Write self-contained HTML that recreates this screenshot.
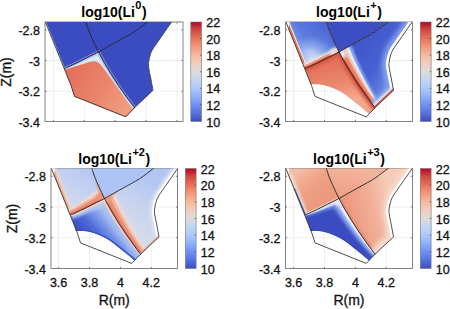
<!DOCTYPE html>
<html><head><meta charset="utf-8"><style>
html,body{margin:0;padding:0;background:#fff;width:450px;height:309px;overflow:hidden}
svg{display:block}
.t{font-family:"Liberation Sans",sans-serif;font-size:12.5px;fill:#111;stroke:#111;stroke-width:0.3px}
.l{font-family:"Liberation Sans",sans-serif;font-size:14px;fill:#111;stroke:#111;stroke-width:0.3px}
.ti{font-family:"Liberation Sans",sans-serif;font-size:14px;font-weight:bold;fill:#000}
</style></head><body>
<svg width="450" height="309" viewBox="0 0 450 309">
<defs><linearGradient id="cw" x1="0" y1="0" x2="0" y2="1"><stop offset="0" stop-color="#b40426"/><stop offset="0.08" stop-color="#d1493f"/><stop offset="0.17" stop-color="#e7745b"/><stop offset="0.25" stop-color="#f4987a"/><stop offset="0.33" stop-color="#f7b89c"/><stop offset="0.42" stop-color="#efcebd"/><stop offset="0.5" stop-color="#dddcdc"/><stop offset="0.58" stop-color="#c5d6f2"/><stop offset="0.67" stop-color="#aac7fd"/><stop offset="0.75" stop-color="#8db0fe"/><stop offset="0.83" stop-color="#6f92f3"/><stop offset="0.92" stop-color="#5470de"/><stop offset="1" stop-color="#3b4cc0"/></linearGradient><filter id="b0_5" filterUnits="userSpaceOnUse" x="-60" y="-60" width="280" height="240"><feGaussianBlur stdDeviation="0.5"/></filter><clipPath id="c1"><path d=" M-0.4,-2 L19.2,46.6 L26,63.5 L29.5,74.4 L80.8,94.9 L89.6,85.7 L108,68.3 L108,68.3 C107.65,66.42 106.63,60.88 105.9,57 C105.17,53.12 103.95,48 103.6,45 C103.25,42 103.53,41 103.8,39 C104.07,37 104.57,34.92 105.2,33 C105.83,31.08 106.23,29.83 107.6,27.5 C108.97,25.17 110.23,23.58 113.4,19 C116.57,14.42 124.17,3.48 126.6,0 C129.03,-3.48 127.77,-1.58 128,-1.9 Z"/></clipPath><linearGradient id="tlred" gradientUnits="userSpaceOnUse" x1="25" y1="50" x2="88" y2="90"><stop offset="0" stop-color="#e3705a"/><stop offset="0.5" stop-color="#eb866c"/><stop offset="1" stop-color="#f2a286"/></linearGradient><filter id="b0_4" filterUnits="userSpaceOnUse" x="-60" y="-60" width="280" height="240"><feGaussianBlur stdDeviation="0.4"/></filter><filter id="b0_6" filterUnits="userSpaceOnUse" x="-60" y="-60" width="280" height="240"><feGaussianBlur stdDeviation="0.6"/></filter><clipPath id="c2"><path d="M53.5,30 C49.5,32 35.22,39.23 29.5,42 C23.78,44.77 20.92,45.83 19.2,46.6 L19.2,46.6 L26,63.5 L29.5,74.4 L80.8,94.9 L89.6,85.7 L89.6,85.7 C88.21,83.85 83.93,78.31 81.24,74.61 C78.55,70.91 75.96,67.2 73.46,63.49 C70.95,59.78 68.55,56.07 66.24,52.35 C63.92,48.63 61.71,44.91 59.58,41.19 C57.46,37.46 54.51,31.86 53.5,30 Z"/></clipPath><clipPath id="ax0"><rect x="0" y="0" width="138" height="99.5"/></clipPath><linearGradient id="trl" gradientUnits="userSpaceOnUse" x1="45" y1="0" x2="15" y2="45"><stop offset="0" stop-color="#4460d4"/><stop offset="0.55" stop-color="#6282e2"/><stop offset="1" stop-color="#98b0f2"/></linearGradient><radialGradient id="trlr" gradientUnits="userSpaceOnUse" cx="24" cy="42" r="32"><stop offset="0" stop-color="#eef0f6" stop-opacity="1"/><stop offset="0.4" stop-color="#b8c8f2" stop-opacity="0.95"/><stop offset="0.75" stop-color="#7898e8" stop-opacity="0.6"/><stop offset="1" stop-color="#4a66d6" stop-opacity="0"/></radialGradient><filter id="b2_5" filterUnits="userSpaceOnUse" x="-60" y="-60" width="280" height="240"><feGaussianBlur stdDeviation="2.5"/></filter><filter id="b1" filterUnits="userSpaceOnUse" x="-60" y="-60" width="280" height="240"><feGaussianBlur stdDeviation="1"/></filter><filter id="b1_5" filterUnits="userSpaceOnUse" x="-60" y="-60" width="280" height="240"><feGaussianBlur stdDeviation="1.5"/></filter><clipPath id="c3"><path d=" M-0.4,-2 L19.2,46.6 L19.2,46.6 C20.92,45.83 23.78,44.77 29.5,42 C35.22,39.23 49.5,32 53.5,30 L53.5,30 C52.08,26.93 47.22,16.93 45,11.6 C42.78,6.27 41,0.27 40.2,-2 Z"/></clipPath><clipPath id="c4"><path d="M53.5,30 C52.08,26.93 47.22,16.93 45,11.6 C42.78,6.27 41,0.27 40.2,-2 L40.2,-2 L105,-2 L105,-2 C104.58,-1.67 105.08,-1.93 102.5,0 C99.92,1.93 93.33,7.02 89.5,9.6 C85.67,12.18 83.58,13.18 79.5,15.5 C75.42,17.82 69.33,21.08 65,23.5 C60.67,25.92 55.42,28.92 53.5,30 Z"/></clipPath><linearGradient id="trr" gradientUnits="userSpaceOnUse" x1="60" y1="30" x2="106" y2="60"><stop offset="0" stop-color="#3f54c8"/><stop offset="0.6" stop-color="#4660d2"/><stop offset="1" stop-color="#6584e2"/></linearGradient><filter id="b1_2" filterUnits="userSpaceOnUse" x="-60" y="-60" width="280" height="240"><feGaussianBlur stdDeviation="1.2"/></filter><filter id="b0_7" filterUnits="userSpaceOnUse" x="-60" y="-60" width="280" height="240"><feGaussianBlur stdDeviation="0.7"/></filter><clipPath id="c5"><path d="M53.5,30 C55.42,28.92 60.67,25.92 65,23.5 C69.33,21.08 75.42,17.82 79.5,15.5 C83.58,13.18 85.67,12.18 89.5,9.6 C93.33,7.02 99.92,1.93 102.5,0 C105.08,-1.93 104.58,-1.67 105,-2 L130,-2 L128,-1.9 C127.77,-1.58 129.03,-3.48 126.6,0 C124.17,3.48 116.57,14.42 113.4,19 C110.23,23.58 108.97,25.17 107.6,27.5 C106.23,29.83 105.83,31.08 105.2,33 C104.57,34.92 104.07,37 103.8,39 C103.53,41 103.25,42 103.6,45 C103.95,48 105.17,53.12 105.9,57 C106.63,60.88 107.65,66.42 108,68.3 L108,68.3 L89.6,85.7 L89.6,85.7 C88.21,83.85 83.93,78.31 81.24,74.61 C78.55,70.91 75.96,67.2 73.46,63.49 C70.95,59.78 68.55,56.07 66.24,52.35 C63.92,48.63 61.71,44.91 59.58,41.19 C57.46,37.46 54.51,31.86 53.5,30 Z"/></clipPath><linearGradient id="trp" gradientUnits="userSpaceOnUse" x1="45" y1="40" x2="55" y2="80"><stop offset="0" stop-color="#e4705a"/><stop offset="0.6" stop-color="#ea8a70"/><stop offset="1" stop-color="#f2a88c"/></linearGradient><filter id="b1_8" filterUnits="userSpaceOnUse" x="-60" y="-60" width="280" height="240"><feGaussianBlur stdDeviation="1.8"/></filter><clipPath id="c6"><path d="M53.5,30 C49.5,32 35.22,39.23 29.5,42 C23.78,44.77 20.92,45.83 19.2,46.6 L19.2,46.6 L24.9,62.6 L24.9,62.6 C27.22,62.77 33.82,62.4 38.8,63.6 C43.78,64.8 49.47,66.83 54.8,69.8 C60.13,72.77 65.98,77.68 70.8,81.4 C75.62,85.12 81.55,90.32 83.7,92.1 L83.7,92.1 L89.6,85.7 L89.6,85.7 C88.21,83.85 83.93,78.31 81.24,74.61 C78.55,70.91 75.96,67.2 73.46,63.49 C70.95,59.78 68.55,56.07 66.24,52.35 C63.92,48.63 61.71,44.91 59.58,41.19 C57.46,37.46 54.51,31.86 53.5,30 Z"/></clipPath><clipPath id="ax1"><rect x="0" y="0" width="127" height="99.5"/></clipPath><linearGradient id="bll" gradientUnits="userSpaceOnUse" x1="40" y1="0" x2="15" y2="40"><stop offset="0" stop-color="#b4c6f2"/><stop offset="0.6" stop-color="#c8d4f0"/><stop offset="1" stop-color="#d6dcec"/></linearGradient><filter id="b0_8" filterUnits="userSpaceOnUse" x="-60" y="-60" width="280" height="240"><feGaussianBlur stdDeviation="0.8"/></filter><clipPath id="c7"><path d=" M-0.4,-2 L19.2,46.6 L19.2,46.6 C20.92,45.83 23.78,44.77 29.5,42 C35.22,39.23 49.5,32 53.5,30 L53.5,30 C52.08,26.93 47.22,16.93 45,11.6 C42.78,6.27 41,0.27 40.2,-2 Z"/></clipPath><clipPath id="c8"><path d="M53.5,30 C52.08,26.93 47.22,16.93 45,11.6 C42.78,6.27 41,0.27 40.2,-2 L40.2,-2 L105,-2 L105,-2 C104.58,-1.67 105.08,-1.93 102.5,0 C99.92,1.93 93.33,7.02 89.5,9.6 C85.67,12.18 83.58,13.18 79.5,15.5 C75.42,17.82 69.33,21.08 65,23.5 C60.67,25.92 55.42,28.92 53.5,30 Z"/></clipPath><linearGradient id="blr" gradientUnits="userSpaceOnUse" x1="70" y1="55" x2="100" y2="12"><stop offset="0" stop-color="#d4dcec"/><stop offset="0.5" stop-color="#c6d2ee"/><stop offset="1" stop-color="#b2c6f2"/></linearGradient><clipPath id="c9"><path d="M53.5,30 C55.42,28.92 60.67,25.92 65,23.5 C69.33,21.08 75.42,17.82 79.5,15.5 C83.58,13.18 85.67,12.18 89.5,9.6 C93.33,7.02 99.92,1.93 102.5,0 C105.08,-1.93 104.58,-1.67 105,-2 L130,-2 L128,-1.9 C127.77,-1.58 129.03,-3.48 126.6,0 C124.17,3.48 116.57,14.42 113.4,19 C110.23,23.58 108.97,25.17 107.6,27.5 C106.23,29.83 105.83,31.08 105.2,33 C104.57,34.92 104.07,37 103.8,39 C103.53,41 103.25,42 103.6,45 C103.95,48 105.17,53.12 105.9,57 C106.63,60.88 107.65,66.42 108,68.3 L108,68.3 L89.6,85.7 L89.6,85.7 C88.21,83.85 83.93,78.31 81.24,74.61 C78.55,70.91 75.96,67.2 73.46,63.49 C70.95,59.78 68.55,56.07 66.24,52.35 C63.92,48.63 61.71,44.91 59.58,41.19 C57.46,37.46 54.51,31.86 53.5,30 Z"/></clipPath><linearGradient id="blp" gradientUnits="userSpaceOnUse" x1="30" y1="64" x2="62" y2="36"><stop offset="0" stop-color="#3a50c4"/><stop offset="0.3" stop-color="#4e6cd8"/><stop offset="0.65" stop-color="#94aef0"/><stop offset="1" stop-color="#ccd8f2"/></linearGradient><clipPath id="c10"><path d="M53.5,30 C49.5,32 35.22,39.23 29.5,42 C23.78,44.77 20.92,45.83 19.2,46.6 L19.2,46.6 L24.9,62.6 L24.9,62.6 C27.22,62.77 33.82,62.4 38.8,63.6 C43.78,64.8 49.47,66.83 54.8,69.8 C60.13,72.77 65.98,77.68 70.8,81.4 C75.62,85.12 81.55,90.32 83.7,92.1 L83.7,92.1 L89.6,85.7 L89.6,85.7 C88.21,83.85 83.93,78.31 81.24,74.61 C78.55,70.91 75.96,67.2 73.46,63.49 C70.95,59.78 68.55,56.07 66.24,52.35 C63.92,48.63 61.71,44.91 59.58,41.19 C57.46,37.46 54.51,31.86 53.5,30 Z"/></clipPath><clipPath id="ax2"><rect x="0" y="0" width="126.5" height="100"/></clipPath><linearGradient id="brl" gradientUnits="userSpaceOnUse" x1="5" y1="5" x2="35" y2="42"><stop offset="0" stop-color="#f4c0aa"/><stop offset="0.45" stop-color="#eea286"/><stop offset="1" stop-color="#ec967a"/></linearGradient><clipPath id="c11"><path d=" M-0.4,-2 L19.2,46.6 L19.2,46.6 C20.92,45.83 23.78,44.77 29.5,42 C35.22,39.23 49.5,32 53.5,30 L53.5,30 C52.08,26.93 47.22,16.93 45,11.6 C42.78,6.27 41,0.27 40.2,-2 Z"/></clipPath><linearGradient id="brc" gradientUnits="userSpaceOnUse" x1="60" y1="0" x2="55" y2="28"><stop offset="0" stop-color="#f2b49c"/><stop offset="1" stop-color="#ee9e84"/></linearGradient><clipPath id="c12"><path d="M53.5,30 C52.08,26.93 47.22,16.93 45,11.6 C42.78,6.27 41,0.27 40.2,-2 L40.2,-2 L105,-2 L105,-2 C104.58,-1.67 105.08,-1.93 102.5,0 C99.92,1.93 93.33,7.02 89.5,9.6 C85.67,12.18 83.58,13.18 79.5,15.5 C75.42,17.82 69.33,21.08 65,23.5 C60.67,25.92 55.42,28.92 53.5,30 Z"/></clipPath><linearGradient id="brr" gradientUnits="userSpaceOnUse" x1="60" y1="40" x2="106" y2="30"><stop offset="0" stop-color="#ec967c"/><stop offset="0.6" stop-color="#f2b29a"/><stop offset="1" stop-color="#f6cdb9"/></linearGradient><filter id="b2" filterUnits="userSpaceOnUse" x="-60" y="-60" width="280" height="240"><feGaussianBlur stdDeviation="2"/></filter><clipPath id="c13"><path d="M53.5,30 C55.42,28.92 60.67,25.92 65,23.5 C69.33,21.08 75.42,17.82 79.5,15.5 C83.58,13.18 85.67,12.18 89.5,9.6 C93.33,7.02 99.92,1.93 102.5,0 C105.08,-1.93 104.58,-1.67 105,-2 L130,-2 L128,-1.9 C127.77,-1.58 129.03,-3.48 126.6,0 C124.17,3.48 116.57,14.42 113.4,19 C110.23,23.58 108.97,25.17 107.6,27.5 C106.23,29.83 105.83,31.08 105.2,33 C104.57,34.92 104.07,37 103.8,39 C103.53,41 103.25,42 103.6,45 C103.95,48 105.17,53.12 105.9,57 C106.63,60.88 107.65,66.42 108,68.3 L108,68.3 L89.6,85.7 L89.6,85.7 C88.21,83.85 83.93,78.31 81.24,74.61 C78.55,70.91 75.96,67.2 73.46,63.49 C70.95,59.78 68.55,56.07 66.24,52.35 C63.92,48.63 61.71,44.91 59.58,41.19 C57.46,37.46 54.51,31.86 53.5,30 Z"/></clipPath><clipPath id="c14"><path d="M53.5,30 C49.5,32 35.22,39.23 29.5,42 C23.78,44.77 20.92,45.83 19.2,46.6 L19.2,46.6 L24.9,62.6 L24.9,62.6 C27.22,62.77 33.82,62.4 38.8,63.6 C43.78,64.8 49.47,66.83 54.8,69.8 C60.13,72.77 65.98,77.68 70.8,81.4 C75.62,85.12 81.55,90.32 83.7,92.1 L83.7,92.1 L89.6,85.7 L89.6,85.7 C88.21,83.85 83.93,78.31 81.24,74.61 C78.55,70.91 75.96,67.2 73.46,63.49 C70.95,59.78 68.55,56.07 66.24,52.35 C63.92,48.63 61.71,44.91 59.58,41.19 C57.46,37.46 54.51,31.86 53.5,30 Z"/></clipPath><clipPath id="ax3"><rect x="0" y="0" width="127" height="100"/></clipPath></defs>
<g transform="translate(45,22)">
<line x1="8.4" y1="0" x2="8.4" y2="99.5" stroke="#e8e8e8" stroke-width="0.75"/>
<line x1="39.3" y1="0" x2="39.3" y2="99.5" stroke="#e8e8e8" stroke-width="0.75"/>
<line x1="70.2" y1="0" x2="70.2" y2="99.5" stroke="#e8e8e8" stroke-width="0.75"/>
<line x1="101.1" y1="0" x2="101.1" y2="99.5" stroke="#e8e8e8" stroke-width="0.75"/>
<line x1="132" y1="0" x2="132" y2="99.5" stroke="#e8e8e8" stroke-width="0.75"/>
<line x1="0" y1="7.8" x2="138" y2="7.8" stroke="#e8e8e8" stroke-width="0.75"/>
<line x1="0" y1="38.5" x2="138" y2="38.5" stroke="#e8e8e8" stroke-width="0.75"/>
<line x1="0" y1="69.2" x2="138" y2="69.2" stroke="#e8e8e8" stroke-width="0.75"/>
<rect x="0" y="0" width="138" height="99.5" fill="none" stroke="#6e6e6e" stroke-width="0.85"/>
<line x1="8.4" y1="99.5" x2="8.4" y2="98" stroke="#555" stroke-width="0.7"/>
<line x1="39.3" y1="99.5" x2="39.3" y2="98" stroke="#555" stroke-width="0.7"/>
<line x1="70.2" y1="99.5" x2="70.2" y2="98" stroke="#555" stroke-width="0.7"/>
<line x1="101.1" y1="99.5" x2="101.1" y2="98" stroke="#555" stroke-width="0.7"/>
<line x1="132" y1="99.5" x2="132" y2="98" stroke="#555" stroke-width="0.7"/>
<line x1="8.4" y1="0" x2="8.4" y2="1.5" stroke="#555" stroke-width="0.7"/>
<line x1="39.3" y1="0" x2="39.3" y2="1.5" stroke="#555" stroke-width="0.7"/>
<line x1="70.2" y1="0" x2="70.2" y2="1.5" stroke="#555" stroke-width="0.7"/>
<line x1="101.1" y1="0" x2="101.1" y2="1.5" stroke="#555" stroke-width="0.7"/>
<line x1="132" y1="0" x2="132" y2="1.5" stroke="#555" stroke-width="0.7"/>
<line x1="0" y1="7.8" x2="1.5" y2="7.8" stroke="#555" stroke-width="0.7"/>
<line x1="138" y1="7.8" x2="136.5" y2="7.8" stroke="#555" stroke-width="0.7"/>
<line x1="0" y1="38.5" x2="1.5" y2="38.5" stroke="#555" stroke-width="0.7"/>
<line x1="138" y1="38.5" x2="136.5" y2="38.5" stroke="#555" stroke-width="0.7"/>
<line x1="0" y1="69.2" x2="1.5" y2="69.2" stroke="#555" stroke-width="0.7"/>
<line x1="138" y1="69.2" x2="136.5" y2="69.2" stroke="#555" stroke-width="0.7"/>
<g clip-path="url(#ax0)">
<g clip-path="url(#c1)">
<path d=" M-0.4,-2 L19.2,46.6 L26,63.5 L29.5,74.4 L80.8,94.9 L89.6,85.7 L108,68.3 L108,68.3 C107.65,66.42 106.63,60.88 105.9,57 C105.17,53.12 103.95,48 103.6,45 C103.25,42 103.53,41 103.8,39 C104.07,37 104.57,34.92 105.2,33 C105.83,31.08 106.23,29.83 107.6,27.5 C108.97,25.17 110.23,23.58 113.4,19 C116.57,14.42 124.17,3.48 126.6,0 C129.03,-3.48 127.77,-1.58 128,-1.9 Z" fill="#3b4cc0"/>
<path d=" M-0.4,-2 L19.2,46.6" fill="none" stroke="#b8c8f0" stroke-width="1.6" stroke-linecap="round" stroke-linejoin="round"/>
<path d="M53.5,30 C49.5,32 35.22,39.23 29.5,42 C23.78,44.77 20.92,45.83 19.2,46.6 M53.5,30 C54.51,31.86 57.46,37.46 59.58,41.19 C61.71,44.91 63.92,48.63 66.24,52.35 C68.55,56.07 70.95,59.78 73.46,63.49 C75.96,67.2 78.55,70.91 81.24,74.61 C83.93,78.31 88.21,83.85 89.6,85.7" fill="none" stroke="#90a8ea" stroke-width="3.6" stroke-linecap="round" stroke-linejoin="round" stroke-opacity="0.55" filter="url(#b0_5)"/>
</g>
<g clip-path="url(#c2)">
<path d="M53.5,30 C49.5,32 35.22,39.23 29.5,42 C23.78,44.77 20.92,45.83 19.2,46.6 L19.2,46.6 L26,63.5 L29.5,74.4 L80.8,94.9 L89.6,85.7 L89.6,85.7 C88.21,83.85 83.93,78.31 81.24,74.61 C78.55,70.91 75.96,67.2 73.46,63.49 C70.95,59.78 68.55,56.07 66.24,52.35 C63.92,48.63 61.71,44.91 59.58,41.19 C57.46,37.46 54.51,31.86 53.5,30 Z" fill="#dde6f4"/>
<path d=" M52.51,28.03 L50.6,29.07 L47.95,30.51 L44.79,32.23 L41.34,34.1 L37.8,36.02 L34.41,37.85 L31.37,39.48 L28.91,40.78 L26.94,41.8 L25.21,42.66 L23.71,43.4 L22.4,44.02 L21.28,44.54 L20.32,44.98 L19.5,45.35 L18.8,45.68 L19.6,47.52 L20.3,47.24 L21.14,46.92 L22.13,46.54 L23.3,46.08 L24.66,45.54 L26.23,44.89 L28.03,44.12 L30.09,43.22 L32.65,42.07 L35.79,40.63 L39.3,39.01 L42.95,37.32 L46.52,35.66 L49.78,34.15 L52.51,32.88 L54.49,31.97 Z" fill="#b4c8f0" filter="url(#b0_4)"/>
<path d=" M51.56,31.04 L52.04,31.9 L52.68,33.03 L53.43,34.38 L54.28,35.89 L55.18,37.49 L56.1,39.11 L57.01,40.69 L57.87,42.16 L58.7,43.55 L59.54,44.94 L60.39,46.33 L61.25,47.72 L62.11,49.11 L62.99,50.5 L63.87,51.88 L64.76,53.27 L65.66,54.65 L66.57,56.04 L67.49,57.42 L68.42,58.8 L69.35,60.19 L70.3,61.57 L71.25,62.95 L72.22,64.33 L73.19,65.71 L74.17,67.09 L75.16,68.46 L76.15,69.84 L77.16,71.22 L78.18,72.59 L79.2,73.97 L80.23,75.34 L81.34,76.8 L82.54,78.35 L83.79,79.95 L85.02,81.52 L86.2,83.01 L87.25,84.34 L88.14,85.46 L88.8,86.3 L90.4,85.1 L89.76,84.23 L88.92,83.07 L87.91,81.7 L86.79,80.18 L85.62,78.57 L84.44,76.93 L83.3,75.35 L82.25,73.87 L81.28,72.47 L80.31,71.07 L79.35,69.67 L78.4,68.26 L77.46,66.86 L76.53,65.46 L75.61,64.06 L74.7,62.66 L73.79,61.25 L72.9,59.85 L72.01,58.45 L71.13,57.05 L70.26,55.64 L69.4,54.24 L68.55,52.84 L67.71,51.44 L66.88,50.03 L66.05,48.63 L65.24,47.23 L64.43,45.82 L63.63,44.42 L62.85,43.02 L62.07,41.62 L61.3,40.22 L60.5,38.74 L59.66,37.15 L58.81,35.52 L57.98,33.9 L57.19,32.37 L56.48,30.99 L55.89,29.83 L55.44,28.96 Z" fill="#b4c8f0" filter="url(#b0_4)"/>
<path d=" M19.63,47.71 L44.59,40 Q52.23,37.63 56.91,44.12 L88.01,87.25 L80.8,94.9 L29.5,74.4 L26,63.5 Z" fill="url(#tlred)" filter="url(#b0_4)"/>
<path d=" M19.2,46.6 L26,63.5 L29.5,74.4 L80.8,94.9 L89.6,85.7 L108,68.3" fill="none" stroke="#d9604a" stroke-width="1.6" stroke-linecap="round" stroke-linejoin="round" stroke-opacity="0.6" filter="url(#b0_6)"/>
</g>
<path d=" M-0.4,-2 L19.2,46.6 L26,63.5 L29.5,74.4 L80.8,94.9 L89.6,85.7 L108,68.3 L108,68.3 C107.65,66.42 106.63,60.88 105.9,57 C105.17,53.12 103.95,48 103.6,45 C103.25,42 103.53,41 103.8,39 C104.07,37 104.57,34.92 105.2,33 C105.83,31.08 106.23,29.83 107.6,27.5 C108.97,25.17 110.23,23.58 113.4,19 C116.57,14.42 124.17,3.48 126.6,0 C129.03,-3.48 127.77,-1.58 128,-1.9" fill="none" stroke="#3a3a3a" stroke-width="0.9"/>
<path d="M53.5,30 C52.08,26.93 47.22,16.93 45,11.6 C42.78,6.27 41,0.27 40.2,-2 M53.5,30 C55.42,28.92 60.67,25.92 65,23.5 C69.33,21.08 75.42,17.82 79.5,15.5 C83.58,13.18 85.67,12.18 89.5,9.6 C93.33,7.02 99.92,1.93 102.5,0 C105.08,-1.93 104.58,-1.67 105,-2 M53.5,30 C49.5,32 35.22,39.23 29.5,42 C23.78,44.77 20.92,45.83 19.2,46.6 M53.5,30 C54.51,31.86 57.46,37.46 59.58,41.19 C61.71,44.91 63.92,48.63 66.24,52.35 C68.55,56.07 70.95,59.78 73.46,63.49 C75.96,67.2 78.55,70.91 81.24,74.61 C83.93,78.31 88.21,83.85 89.6,85.7" fill="none" stroke="#262626" stroke-width="0.95"/>
</g>
<text x="-5" y="12.8" text-anchor="end" class="t">-2.8</text>
<text x="-5" y="43.5" text-anchor="end" class="t">-3</text>
<text x="-5" y="74.2" text-anchor="end" class="t">-3.2</text>
<text x="-5" y="105" text-anchor="end" class="t">-3.4</text>
<text transform="translate(-34,50) rotate(-90)" text-anchor="middle" class="l">Z(m)</text>
<text x="69" y="-4.6" text-anchor="middle" class="ti">log10(Li<tspan dx="0.4" dy="-8" font-size="11">0</tspan><tspan dx="0.6" dy="8">)</tspan></text>
<rect x="145.8" y="0" width="10.8" height="99.5" fill="url(#cw)" stroke="#777" stroke-width="0.6"/>
<text x="161.3" y="5" class="t">22</text>
<line x1="156.6" y1="16.58" x2="155.1" y2="16.58" stroke="#444" stroke-width="0.7"/>
<text x="161.3" y="21.58" class="t">20</text>
<line x1="156.6" y1="33.17" x2="155.1" y2="33.17" stroke="#444" stroke-width="0.7"/>
<text x="161.3" y="38.17" class="t">18</text>
<line x1="156.6" y1="49.75" x2="155.1" y2="49.75" stroke="#444" stroke-width="0.7"/>
<text x="161.3" y="54.75" class="t">16</text>
<line x1="156.6" y1="66.33" x2="155.1" y2="66.33" stroke="#444" stroke-width="0.7"/>
<text x="161.3" y="71.33" class="t">14</text>
<line x1="156.6" y1="82.92" x2="155.1" y2="82.92" stroke="#444" stroke-width="0.7"/>
<text x="161.3" y="87.92" class="t">12</text>
<text x="161.3" y="104.5" class="t">10</text>
</g>
<g transform="translate(285.5,22)">
<line x1="8.1" y1="0" x2="8.1" y2="99.5" stroke="#e8e8e8" stroke-width="0.75"/>
<line x1="39" y1="0" x2="39" y2="99.5" stroke="#e8e8e8" stroke-width="0.75"/>
<line x1="69.9" y1="0" x2="69.9" y2="99.5" stroke="#e8e8e8" stroke-width="0.75"/>
<line x1="100.8" y1="0" x2="100.8" y2="99.5" stroke="#e8e8e8" stroke-width="0.75"/>
<line x1="0" y1="7.8" x2="127" y2="7.8" stroke="#e8e8e8" stroke-width="0.75"/>
<line x1="0" y1="38.5" x2="127" y2="38.5" stroke="#e8e8e8" stroke-width="0.75"/>
<line x1="0" y1="69.2" x2="127" y2="69.2" stroke="#e8e8e8" stroke-width="0.75"/>
<rect x="0" y="0" width="127" height="99.5" fill="none" stroke="#6e6e6e" stroke-width="0.85"/>
<line x1="8.1" y1="99.5" x2="8.1" y2="98" stroke="#555" stroke-width="0.7"/>
<line x1="39" y1="99.5" x2="39" y2="98" stroke="#555" stroke-width="0.7"/>
<line x1="69.9" y1="99.5" x2="69.9" y2="98" stroke="#555" stroke-width="0.7"/>
<line x1="100.8" y1="99.5" x2="100.8" y2="98" stroke="#555" stroke-width="0.7"/>
<line x1="8.1" y1="0" x2="8.1" y2="1.5" stroke="#555" stroke-width="0.7"/>
<line x1="39" y1="0" x2="39" y2="1.5" stroke="#555" stroke-width="0.7"/>
<line x1="69.9" y1="0" x2="69.9" y2="1.5" stroke="#555" stroke-width="0.7"/>
<line x1="100.8" y1="0" x2="100.8" y2="1.5" stroke="#555" stroke-width="0.7"/>
<line x1="0" y1="7.8" x2="1.5" y2="7.8" stroke="#555" stroke-width="0.7"/>
<line x1="127" y1="7.8" x2="125.5" y2="7.8" stroke="#555" stroke-width="0.7"/>
<line x1="0" y1="38.5" x2="1.5" y2="38.5" stroke="#555" stroke-width="0.7"/>
<line x1="127" y1="38.5" x2="125.5" y2="38.5" stroke="#555" stroke-width="0.7"/>
<line x1="0" y1="69.2" x2="1.5" y2="69.2" stroke="#555" stroke-width="0.7"/>
<line x1="127" y1="69.2" x2="125.5" y2="69.2" stroke="#555" stroke-width="0.7"/>
<g clip-path="url(#ax1)">
<g clip-path="url(#c3)">
<path d=" M-0.4,-2 L19.2,46.6 L19.2,46.6 C20.92,45.83 23.78,44.77 29.5,42 C35.22,39.23 49.5,32 53.5,30 L53.5,30 C52.08,26.93 47.22,16.93 45,11.6 C42.78,6.27 41,0.27 40.2,-2 Z" fill="url(#trl)"/>
<rect x="-10" y="-10" width="80" height="80" fill="url(#trlr)"/>
<path d=" M-0.4,-2 L19.2,46.6" fill="none" stroke="#7f9eec" stroke-width="14" stroke-linecap="round" stroke-linejoin="round" stroke-opacity="0.4" filter="url(#b2_5)"/>
<path d=" M-0.4,-2 L19.2,46.6" fill="none" stroke="#f0ecec" stroke-width="6.5" stroke-linecap="round" stroke-linejoin="round" filter="url(#b0_5)"/>
<path d=" M-0.4,-2 L19.2,46.6" fill="none" stroke="#e6704f" stroke-width="4.2" stroke-linecap="round" stroke-linejoin="round" filter="url(#b0_4)"/>
<path d="M53.5,30 C49.5,32 35.22,39.23 29.5,42 C23.78,44.77 20.92,45.83 19.2,46.6" fill="none" stroke="#eee6e2" stroke-width="10" stroke-linecap="round" stroke-linejoin="round" filter="url(#b1)"/>
<path d="M53.5,30 C49.5,32 35.22,39.23 29.5,42 C23.78,44.77 20.92,45.83 19.2,46.6" fill="none" stroke="#ee9a80" stroke-width="6.5" stroke-linecap="round" stroke-linejoin="round" filter="url(#b0_6)"/>
<path d="M53.5,30 C49.5,32 35.22,39.23 29.5,42 C23.78,44.77 20.92,45.83 19.2,46.6" fill="none" stroke="#dc5c46" stroke-width="3" stroke-linecap="round" stroke-linejoin="round" filter="url(#b0_5)"/>
<circle cx="49" cy="31" r="5" fill="#eedcd4" fill-opacity="1" filter="url(#b1_5)"/>
</g>
<g clip-path="url(#c4)">
<path d="M53.5,30 C52.08,26.93 47.22,16.93 45,11.6 C42.78,6.27 41,0.27 40.2,-2 L40.2,-2 L105,-2 L105,-2 C104.58,-1.67 105.08,-1.93 102.5,0 C99.92,1.93 93.33,7.02 89.5,9.6 C85.67,12.18 83.58,13.18 79.5,15.5 C75.42,17.82 69.33,21.08 65,23.5 C60.67,25.92 55.42,28.92 53.5,30 Z" fill="#3c4ec2"/>
</g>
<g clip-path="url(#c5)">
<path d="M53.5,30 C55.42,28.92 60.67,25.92 65,23.5 C69.33,21.08 75.42,17.82 79.5,15.5 C83.58,13.18 85.67,12.18 89.5,9.6 C93.33,7.02 99.92,1.93 102.5,0 C105.08,-1.93 104.58,-1.67 105,-2 L130,-2 L128,-1.9 C127.77,-1.58 129.03,-3.48 126.6,0 C124.17,3.48 116.57,14.42 113.4,19 C110.23,23.58 108.97,25.17 107.6,27.5 C106.23,29.83 105.83,31.08 105.2,33 C104.57,34.92 104.07,37 103.8,39 C103.53,41 103.25,42 103.6,45 C103.95,48 105.17,53.12 105.9,57 C106.63,60.88 107.65,66.42 108,68.3 L108,68.3 L89.6,85.7 L89.6,85.7 C88.21,83.85 83.93,78.31 81.24,74.61 C78.55,70.91 75.96,67.2 73.46,63.49 C70.95,59.78 68.55,56.07 66.24,52.35 C63.92,48.63 61.71,44.91 59.58,41.19 C57.46,37.46 54.51,31.86 53.5,30 Z" fill="url(#trr)"/>
<path d=" M41.18,36.64 L41.73,37.43 L42.46,38.5 L43.35,39.79 L44.35,41.24 L45.42,42.78 L46.52,44.36 L47.61,45.92 L48.66,47.39 L49.66,48.77 L50.65,50.12 L51.66,51.48 L52.67,52.83 L53.7,54.18 L54.73,55.53 L55.77,56.87 L56.81,58.21 L57.87,59.55 L58.93,60.89 L60.01,62.22 L61.09,63.55 L62.18,64.88 L63.28,66.21 L64.38,67.54 L65.5,68.86 L66.62,70.18 L67.75,71.5 L68.89,72.81 L70.04,74.12 L71.2,75.43 L72.36,76.74 L73.54,78.05 L74.73,79.36 L76,80.75 L77.37,82.22 L78.79,83.72 L80.18,85.19 L81.5,86.58 L82.69,87.82 L83.68,88.85 L84.42,89.63 L94.78,81.77 L94.22,80.84 L93.48,79.6 L92.6,78.13 L91.63,76.5 L90.62,74.79 L89.61,73.06 L88.64,71.4 L87.76,69.86 L86.94,68.39 L86.12,66.92 L85.32,65.45 L84.52,63.98 L83.73,62.52 L82.95,61.05 L82.18,59.59 L81.41,58.13 L80.66,56.67 L79.92,55.21 L79.19,53.75 L78.46,52.3 L77.75,50.84 L77.04,49.39 L76.35,47.94 L75.66,46.49 L74.98,45.04 L74.31,43.6 L73.65,42.16 L73,40.72 L72.36,39.28 L71.73,37.84 L71.11,36.4 L70.51,34.99 L69.9,33.51 L69.24,31.9 L68.57,30.22 L67.9,28.56 L67.27,26.97 L66.7,25.53 L66.2,24.29 L65.82,23.36 Z" fill="#90aaf0" filter="url(#b1_2)"/>
<path d=" M43.82,35.22 L44.35,36.03 L45.06,37.11 L45.91,38.42 L46.87,39.88 L47.89,41.44 L48.94,43.03 L49.99,44.6 L50.98,46.07 L51.94,47.45 L52.89,48.82 L53.86,50.18 L54.83,51.55 L55.81,52.91 L56.8,54.26 L57.8,55.62 L58.8,56.98 L59.82,58.33 L60.84,59.68 L61.87,61.03 L62.91,62.37 L63.96,63.72 L65.02,65.06 L66.08,66.4 L67.16,67.74 L68.24,69.08 L69.33,70.41 L70.43,71.74 L71.54,73.07 L72.66,74.4 L73.78,75.73 L74.92,77.05 L76.06,78.39 L77.29,79.79 L78.62,81.29 L79.99,82.81 L81.34,84.31 L82.62,85.73 L83.78,86.99 L84.74,88.05 L85.46,88.84 L93.74,82.56 L93.17,81.64 L92.39,80.42 L91.48,78.98 L90.47,77.38 L89.42,75.7 L88.36,74 L87.35,72.35 L86.43,70.83 L85.56,69.38 L84.71,67.93 L83.86,66.48 L83.02,65.03 L82.19,63.58 L81.37,62.14 L80.56,60.69 L79.75,59.25 L78.96,57.8 L78.18,56.36 L77.4,54.92 L76.64,53.48 L75.88,52.04 L75.14,50.6 L74.4,49.16 L73.67,47.73 L72.95,46.29 L72.24,44.86 L71.54,43.43 L70.85,42 L70.17,40.57 L69.49,39.14 L68.83,37.72 L68.18,36.31 L67.52,34.83 L66.82,33.23 L66.1,31.57 L65.38,29.91 L64.71,28.34 L64.1,26.91 L63.58,25.7 L63.18,24.78 Z" fill="#e6e8f2" filter="url(#b0_7)"/>
<path d=" M46.46,33.8 L46.97,34.62 L47.64,35.72 L48.45,37.05 L49.36,38.54 L50.33,40.12 L51.33,41.72 L52.32,43.3 L53.26,44.78 L54.16,46.17 L55.07,47.55 L55.99,48.93 L56.91,50.31 L57.84,51.68 L58.78,53.06 L59.73,54.43 L60.69,55.8 L61.66,57.17 L62.64,58.54 L63.62,59.91 L64.61,61.27 L65.61,62.63 L66.63,64 L67.64,65.36 L68.67,66.72 L69.71,68.08 L70.75,69.43 L71.81,70.79 L72.87,72.14 L73.94,73.5 L75.02,74.85 L76.11,76.2 L77.21,77.55 L78.39,78.98 L79.66,80.51 L80.98,82.07 L82.29,83.6 L83.52,85.04 L84.63,86.34 L85.56,87.42 L86.25,88.24 L92.95,83.16 L92.34,82.27 L91.54,81.08 L90.59,79.66 L89.53,78.1 L88.42,76.45 L87.31,74.78 L86.25,73.16 L85.28,71.67 L84.37,70.24 L83.47,68.82 L82.57,67.39 L81.69,65.96 L80.81,64.54 L79.95,63.11 L79.09,61.69 L78.24,60.27 L77.4,58.84 L76.57,57.42 L75.75,56 L74.94,54.58 L74.13,53.16 L73.34,51.74 L72.56,50.32 L71.78,48.9 L71.01,47.49 L70.26,46.07 L69.51,44.65 L68.77,43.24 L68.04,41.83 L67.32,40.41 L66.61,39 L65.91,37.6 L65.19,36.13 L64.43,34.54 L63.65,32.89 L62.89,31.25 L62.17,29.7 L61.52,28.3 L60.96,27.1 L60.54,26.2 Z" fill="#f0c4b4" filter="url(#b0_5)"/>
<path d=" M48.66,32.61 L49.15,33.45 L49.81,34.57 L50.59,35.91 L51.47,37.4 L52.4,38.99 L53.36,40.61 L54.31,42.19 L55.22,43.67 L56.09,45.06 L56.96,46.45 L57.84,47.83 L58.73,49.22 L59.63,50.6 L60.54,51.98 L61.46,53.37 L62.39,54.75 L63.32,56.12 L64.27,57.5 L65.22,58.88 L66.18,60.25 L67.15,61.63 L68.13,63 L69.12,64.38 L70.11,65.75 L71.12,67.12 L72.13,68.49 L73.15,69.85 L74.18,71.22 L75.22,72.59 L76.27,73.95 L77.33,75.32 L78.4,76.68 L79.54,78.13 L80.78,79.67 L82.07,81.25 L83.34,82.8 L84.54,84.27 L85.62,85.58 L86.53,86.68 L87.21,87.51 L91.99,83.89 L91.37,83 L90.55,81.83 L89.57,80.44 L88.48,78.9 L87.34,77.27 L86.19,75.62 L85.1,74.02 L84.09,72.53 L83.15,71.12 L82.22,69.71 L81.29,68.3 L80.37,66.88 L79.47,65.47 L78.57,64.06 L77.68,62.65 L76.8,61.24 L75.93,59.83 L75.07,58.42 L74.21,57.01 L73.37,55.6 L72.54,54.19 L71.71,52.78 L70.89,51.37 L70.08,49.96 L69.29,48.55 L68.5,47.14 L67.72,45.73 L66.94,44.33 L66.18,42.92 L65.43,41.51 L64.68,40.11 L63.95,38.71 L63.2,37.24 L62.4,35.65 L61.58,34.01 L60.79,32.39 L60.03,30.85 L59.35,29.46 L58.78,28.28 L58.34,27.39 Z" fill="#e98468" filter="url(#b0_5)"/>
<path d="M53.5,30 C54.51,31.86 57.46,37.46 59.58,41.19 C61.71,44.91 63.92,48.63 66.24,52.35 C68.55,56.07 70.95,59.78 73.46,63.49 C75.96,67.2 78.55,70.91 81.24,74.61 C83.93,78.31 88.21,83.85 89.6,85.7" fill="none" stroke="#cc4a38" stroke-width="2.8" stroke-linecap="round" stroke-linejoin="round" filter="url(#b0_4)"/>
<circle cx="56" cy="32" r="5" fill="#e8e4ea" fill-opacity="1" filter="url(#b1_5)"/>
<path d="M108,68.3 C107.65,66.42 106.63,60.88 105.9,57 C105.17,53.12 103.95,48 103.6,45 C103.25,42 103.53,41 103.8,39 C104.07,37 104.57,34.92 105.2,33 C105.83,31.08 106.23,29.83 107.6,27.5 C108.97,25.17 110.23,23.58 113.4,19 C116.57,14.42 124.17,3.48 126.6,0 C129.03,-3.48 127.77,-1.58 128,-1.9  M89.6,85.7 L108,68.3" fill="none" stroke="#86a2ee" stroke-width="14" stroke-linecap="round" stroke-linejoin="round" filter="url(#b2_5)"/>
<path d="M108,68.3 C107.65,66.42 106.63,60.88 105.9,57 C105.17,53.12 103.95,48 103.6,45 C103.25,42 103.53,41 103.8,39 C104.07,37 104.57,34.92 105.2,33 C105.83,31.08 106.23,29.83 107.6,27.5 C108.97,25.17 110.23,23.58 113.4,19 C116.57,14.42 124.17,3.48 126.6,0 C129.03,-3.48 127.77,-1.58 128,-1.9" fill="none" stroke="#ffffff" stroke-width="6" stroke-linecap="round" stroke-linejoin="round" filter="url(#b0_7)"/>
<path d=" M89.6,85.7 L108,68.3" fill="none" stroke="#e8e6f0" stroke-width="8" stroke-linecap="round" stroke-linejoin="round" filter="url(#b1)"/>
<path d=" M89.6,85.7 L108,68.3" fill="none" stroke="#d85a46" stroke-width="3.5" stroke-linecap="round" stroke-linejoin="round" filter="url(#b0_5)"/>
</g>
<g clip-path="url(#c6)">
<path d="M53.5,30 C49.5,32 35.22,39.23 29.5,42 C23.78,44.77 20.92,45.83 19.2,46.6 L19.2,46.6 L24.9,62.6 L24.9,62.6 C27.22,62.77 33.82,62.4 38.8,63.6 C43.78,64.8 49.47,66.83 54.8,69.8 C60.13,72.77 65.98,77.68 70.8,81.4 C75.62,85.12 81.55,90.32 83.7,92.1 L83.7,92.1 L89.6,85.7 L89.6,85.7 C88.21,83.85 83.93,78.31 81.24,74.61 C78.55,70.91 75.96,67.2 73.46,63.49 C70.95,59.78 68.55,56.07 66.24,52.35 C63.92,48.63 61.71,44.91 59.58,41.19 C57.46,37.46 54.51,31.86 53.5,30 Z" fill="url(#trp)"/>
<path d="M53.5,30 C49.5,32 35.22,39.23 29.5,42 C23.78,44.77 20.92,45.83 19.2,46.6 M53.5,30 C54.51,31.86 57.46,37.46 59.58,41.19 C61.71,44.91 63.92,48.63 66.24,52.35 C68.55,56.07 70.95,59.78 73.46,63.49 C75.96,67.2 78.55,70.91 81.24,74.61 C83.93,78.31 88.21,83.85 89.6,85.7" fill="none" stroke="#d85844" stroke-width="7" stroke-linecap="round" stroke-linejoin="round" stroke-opacity="0.9" filter="url(#b1_8)"/>
<path d="M53.5,30 C49.5,32 35.22,39.23 29.5,42 C23.78,44.77 20.92,45.83 19.2,46.6 M53.5,30 C54.51,31.86 57.46,37.46 59.58,41.19 C61.71,44.91 63.92,48.63 66.24,52.35 C68.55,56.07 70.95,59.78 73.46,63.49 C75.96,67.2 78.55,70.91 81.24,74.61 C83.93,78.31 88.21,83.85 89.6,85.7" fill="none" stroke="#d04c3c" stroke-width="2.5" stroke-linecap="round" stroke-linejoin="round" filter="url(#b0_5)"/>
</g>
<path d=" M-0.4,-2 L4.2,-2 L2.8,7 Z" fill="#fff"/>
<path d=" M-0.4,-2 L19.2,46.6 L26,63.5 L29.5,74.4 L80.8,94.9 L89.6,85.7 L108,68.3 L108,68.3 C107.65,66.42 106.63,60.88 105.9,57 C105.17,53.12 103.95,48 103.6,45 C103.25,42 103.53,41 103.8,39 C104.07,37 104.57,34.92 105.2,33 C105.83,31.08 106.23,29.83 107.6,27.5 C108.97,25.17 110.23,23.58 113.4,19 C116.57,14.42 124.17,3.48 126.6,0 C129.03,-3.48 127.77,-1.58 128,-1.9" fill="none" stroke="#3a3a3a" stroke-width="0.9"/>
<path d="M53.5,30 C52.08,26.93 47.22,16.93 45,11.6 C42.78,6.27 41,0.27 40.2,-2 M53.5,30 C55.42,28.92 60.67,25.92 65,23.5 C69.33,21.08 75.42,17.82 79.5,15.5 C83.58,13.18 85.67,12.18 89.5,9.6 C93.33,7.02 99.92,1.93 102.5,0 C105.08,-1.93 104.58,-1.67 105,-2 M53.5,30 C49.5,32 35.22,39.23 29.5,42 C23.78,44.77 20.92,45.83 19.2,46.6 M53.5,30 C54.51,31.86 57.46,37.46 59.58,41.19 C61.71,44.91 63.92,48.63 66.24,52.35 C68.55,56.07 70.95,59.78 73.46,63.49 C75.96,67.2 78.55,70.91 81.24,74.61 C83.93,78.31 88.21,83.85 89.6,85.7" fill="none" stroke="#262626" stroke-width="0.95"/>
</g>
<text x="-5" y="12.8" text-anchor="end" class="t">-2.8</text>
<text x="-5" y="43.5" text-anchor="end" class="t">-3</text>
<text x="-5" y="74.2" text-anchor="end" class="t">-3.2</text>
<text x="-5" y="105" text-anchor="end" class="t">-3.4</text>
<text x="63.5" y="-4.6" text-anchor="middle" class="ti">log10(Li<tspan dx="0.4" dy="-8" font-size="11">+</tspan><tspan dx="0.6" dy="8">)</tspan></text>
<rect x="134.8" y="0" width="10.8" height="99.5" fill="url(#cw)" stroke="#777" stroke-width="0.6"/>
<text x="150.3" y="5" class="t">22</text>
<line x1="145.6" y1="16.58" x2="144.1" y2="16.58" stroke="#444" stroke-width="0.7"/>
<text x="150.3" y="21.58" class="t">20</text>
<line x1="145.6" y1="33.17" x2="144.1" y2="33.17" stroke="#444" stroke-width="0.7"/>
<text x="150.3" y="38.17" class="t">18</text>
<line x1="145.6" y1="49.75" x2="144.1" y2="49.75" stroke="#444" stroke-width="0.7"/>
<text x="150.3" y="54.75" class="t">16</text>
<line x1="145.6" y1="66.33" x2="144.1" y2="66.33" stroke="#444" stroke-width="0.7"/>
<text x="150.3" y="71.33" class="t">14</text>
<line x1="145.6" y1="82.92" x2="144.1" y2="82.92" stroke="#444" stroke-width="0.7"/>
<text x="150.3" y="87.92" class="t">12</text>
<text x="150.3" y="104.5" class="t">10</text>
</g>
<g transform="translate(51,168.5)">
<line x1="7.6" y1="0" x2="7.6" y2="100" stroke="#e8e8e8" stroke-width="0.75"/>
<line x1="38.5" y1="0" x2="38.5" y2="100" stroke="#e8e8e8" stroke-width="0.75"/>
<line x1="69.4" y1="0" x2="69.4" y2="100" stroke="#e8e8e8" stroke-width="0.75"/>
<line x1="100.3" y1="0" x2="100.3" y2="100" stroke="#e8e8e8" stroke-width="0.75"/>
<line x1="0" y1="7.8" x2="126.5" y2="7.8" stroke="#e8e8e8" stroke-width="0.75"/>
<line x1="0" y1="38.5" x2="126.5" y2="38.5" stroke="#e8e8e8" stroke-width="0.75"/>
<line x1="0" y1="69.2" x2="126.5" y2="69.2" stroke="#e8e8e8" stroke-width="0.75"/>
<rect x="0" y="0" width="126.5" height="100" fill="none" stroke="#6e6e6e" stroke-width="0.85"/>
<line x1="7.6" y1="100" x2="7.6" y2="98.5" stroke="#555" stroke-width="0.7"/>
<line x1="38.5" y1="100" x2="38.5" y2="98.5" stroke="#555" stroke-width="0.7"/>
<line x1="69.4" y1="100" x2="69.4" y2="98.5" stroke="#555" stroke-width="0.7"/>
<line x1="100.3" y1="100" x2="100.3" y2="98.5" stroke="#555" stroke-width="0.7"/>
<line x1="7.6" y1="0" x2="7.6" y2="1.5" stroke="#555" stroke-width="0.7"/>
<line x1="38.5" y1="0" x2="38.5" y2="1.5" stroke="#555" stroke-width="0.7"/>
<line x1="69.4" y1="0" x2="69.4" y2="1.5" stroke="#555" stroke-width="0.7"/>
<line x1="100.3" y1="0" x2="100.3" y2="1.5" stroke="#555" stroke-width="0.7"/>
<line x1="0" y1="7.8" x2="1.5" y2="7.8" stroke="#555" stroke-width="0.7"/>
<line x1="126.5" y1="7.8" x2="125" y2="7.8" stroke="#555" stroke-width="0.7"/>
<line x1="0" y1="38.5" x2="1.5" y2="38.5" stroke="#555" stroke-width="0.7"/>
<line x1="126.5" y1="38.5" x2="125" y2="38.5" stroke="#555" stroke-width="0.7"/>
<line x1="0" y1="69.2" x2="1.5" y2="69.2" stroke="#555" stroke-width="0.7"/>
<line x1="126.5" y1="69.2" x2="125" y2="69.2" stroke="#555" stroke-width="0.7"/>
<g clip-path="url(#ax2)">
<g clip-path="url(#c7)">
<path d=" M-0.4,-2 L19.2,46.6 L19.2,46.6 C20.92,45.83 23.78,44.77 29.5,42 C35.22,39.23 49.5,32 53.5,30 L53.5,30 C52.08,26.93 47.22,16.93 45,11.6 C42.78,6.27 41,0.27 40.2,-2 Z" fill="url(#bll)"/>
<path d=" M-0.4,-2 L19.2,46.6" fill="none" stroke="#e6d8d4" stroke-width="9" stroke-linecap="round" stroke-linejoin="round" filter="url(#b1_2)"/>
<path d=" M-0.4,-2 L19.2,46.6" fill="none" stroke="#f0b8a4" stroke-width="5" stroke-linecap="round" stroke-linejoin="round" filter="url(#b0_6)"/>
<path d=" M-0.4,-2 L19.2,46.6" fill="none" stroke="#ec9a80" stroke-width="2.4" stroke-linecap="round" stroke-linejoin="round" filter="url(#b0_4)"/>
<path d=" M48.57,20.17 L46.74,21.4 L44.23,23.11 L41.23,25.15 L37.96,27.37 L34.61,29.64 L31.4,31.81 L28.54,33.73 L26.24,35.27 L24.43,36.46 L22.84,37.47 L21.46,38.33 L20.27,39.06 L19.23,39.68 L18.32,40.21 L17.51,40.69 L16.81,41.1 L21.59,52.1 L22.3,51.91 L23.14,51.68 L24.18,51.39 L25.43,51.04 L26.9,50.6 L28.6,50.08 L30.55,49.46 L32.76,48.73 L35.48,47.81 L38.8,46.67 L42.49,45.39 L46.33,44.05 L50.08,42.74 L53.51,41.55 L56.37,40.55 L58.43,39.83 Z" fill="#eed8d2" filter="url(#b1_2)"/>
<path d=" M50.14,23.3 L48.26,24.43 L45.68,26 L42.6,27.86 L39.23,29.9 L35.78,31.99 L32.48,33.98 L29.53,35.74 L27.15,37.15 L25.27,38.24 L23.62,39.18 L22.19,39.97 L20.94,40.63 L19.87,41.2 L18.94,41.68 L18.11,42.1 L17.41,42.47 L20.99,50.73 L21.69,50.49 L22.52,50.22 L23.54,49.88 L24.76,49.47 L26.18,48.97 L27.82,48.38 L29.71,47.68 L31.85,46.85 L34.49,45.8 L37.72,44.5 L41.32,43.04 L45.06,41.52 L48.72,40.03 L52.06,38.66 L54.85,37.52 L56.86,36.7 Z" fill="#f0b8a4" filter="url(#b0_6)"/>
<path d=" M51.26,25.53 L49.36,26.61 L46.74,28.11 L43.62,29.89 L40.2,31.84 L36.71,33.83 L33.35,35.73 L30.36,37.42 L27.94,38.77 L26.01,39.82 L24.32,40.71 L22.85,41.47 L21.58,42.1 L20.48,42.64 L19.53,43.1 L18.71,43.5 L18.01,43.85 L20.39,49.35 L21.09,49.09 L21.93,48.79 L22.93,48.43 L24.12,48 L25.51,47.47 L27.12,46.85 L28.97,46.1 L31.06,45.23 L33.66,44.13 L36.85,42.75 L40.4,41.2 L44.09,39.58 L47.7,38 L50.99,36.55 L53.75,35.34 L55.74,34.47 Z" fill="#ec8e74" filter="url(#b0_5)"/>
<path d="M53.5,30 C49.5,32 35.22,39.23 29.5,42 C23.78,44.77 20.92,45.83 19.2,46.6" fill="none" stroke="#e06850" stroke-width="3" stroke-linecap="round" stroke-linejoin="round" filter="url(#b0_4)"/>
<path d=" M56.68,28.53 L55.73,27.09 L54.4,25.05 L52.8,22.61 L51.07,19.96 L49.33,17.32 L47.73,14.87 L46.4,12.83 L45.45,11.39 L44.55,11.81 L45.03,13.46 L45.72,15.8 L46.54,18.61 L47.43,21.64 L48.33,24.67 L49.15,27.47 L49.84,29.82 L50.32,31.47 Z" fill="#ec9278" filter="url(#b0_8)"/>
<circle cx="49.5" cy="28.5" r="4" fill="#ec9278" fill-opacity="1" filter="url(#b1)"/>
</g>
<g clip-path="url(#c8)">
<path d="M53.5,30 C52.08,26.93 47.22,16.93 45,11.6 C42.78,6.27 41,0.27 40.2,-2 L40.2,-2 L105,-2 L105,-2 C104.58,-1.67 105.08,-1.93 102.5,0 C99.92,1.93 93.33,7.02 89.5,9.6 C85.67,12.18 83.58,13.18 79.5,15.5 C75.42,17.82 69.33,21.08 65,23.5 C60.67,25.92 55.42,28.92 53.5,30 Z" fill="#aec4f6"/>
</g>
<g clip-path="url(#c9)">
<path d="M53.5,30 C55.42,28.92 60.67,25.92 65,23.5 C69.33,21.08 75.42,17.82 79.5,15.5 C83.58,13.18 85.67,12.18 89.5,9.6 C93.33,7.02 99.92,1.93 102.5,0 C105.08,-1.93 104.58,-1.67 105,-2 L130,-2 L128,-1.9 C127.77,-1.58 129.03,-3.48 126.6,0 C124.17,3.48 116.57,14.42 113.4,19 C110.23,23.58 108.97,25.17 107.6,27.5 C106.23,29.83 105.83,31.08 105.2,33 C104.57,34.92 104.07,37 103.8,39 C103.53,41 103.25,42 103.6,45 C103.95,48 105.17,53.12 105.9,57 C106.63,60.88 107.65,66.42 108,68.3 L108,68.3 L89.6,85.7 L89.6,85.7 C88.21,83.85 83.93,78.31 81.24,74.61 C78.55,70.91 75.96,67.2 73.46,63.49 C70.95,59.78 68.55,56.07 66.24,52.35 C63.92,48.63 61.71,44.91 59.58,41.19 C57.46,37.46 54.51,31.86 53.5,30 Z" fill="url(#blr)"/>
<path d=" M42.94,35.7 L43.46,36.51 L44.15,37.59 L44.99,38.91 L45.93,40.39 L46.93,41.96 L47.97,43.57 L49,45.15 L49.98,46.64 L50.92,48.04 L51.86,49.42 L52.81,50.8 L53.77,52.18 L54.74,53.55 L55.71,54.93 L56.7,56.3 L57.69,57.67 L58.69,59.04 L59.7,60.4 L60.72,61.77 L61.75,63.13 L62.78,64.49 L63.83,65.85 L64.88,67.21 L65.94,68.56 L67.01,69.91 L68.09,71.27 L69.17,72.62 L70.27,73.96 L71.37,75.31 L72.49,76.65 L73.61,78 L74.74,79.35 L75.96,80.77 L77.28,82.29 L78.63,83.84 L79.97,85.36 L81.23,86.79 L82.37,88.06 L83.31,89.13 L84.02,89.93 L95.18,81.47 L94.59,80.56 L93.8,79.35 L92.87,77.92 L91.85,76.34 L90.78,74.67 L89.7,72.99 L88.68,71.37 L87.74,69.87 L86.87,68.44 L86,67.01 L85.14,65.57 L84.29,64.14 L83.45,62.71 L82.61,61.28 L81.79,59.85 L80.97,58.42 L80.17,57 L79.37,55.57 L78.58,54.15 L77.8,52.72 L77.03,51.3 L76.27,49.88 L75.52,48.46 L74.78,47.04 L74.05,45.62 L73.33,44.2 L72.61,42.78 L71.91,41.37 L71.21,39.96 L70.52,38.54 L69.85,37.13 L69.19,35.74 L68.51,34.28 L67.79,32.69 L67.05,31.05 L66.32,29.41 L65.63,27.84 L65.01,26.43 L64.47,25.22 L64.06,24.3 Z" fill="#eed8d2" filter="url(#b1_2)"/>
<path d=" M46.02,34.03 L46.52,34.86 L47.19,35.97 L48,37.3 L48.9,38.79 L49.86,40.37 L50.85,41.98 L51.84,43.57 L52.78,45.05 L53.67,46.45 L54.58,47.84 L55.49,49.22 L56.41,50.61 L57.33,51.99 L58.27,53.37 L59.21,54.75 L60.17,56.13 L61.13,57.5 L62.1,58.88 L63.08,60.25 L64.07,61.62 L65.07,62.99 L66.07,64.36 L67.09,65.73 L68.11,67.1 L69.14,68.46 L70.18,69.82 L71.23,71.19 L72.29,72.55 L73.36,73.91 L74.43,75.27 L75.52,76.62 L76.61,77.98 L77.79,79.42 L79.06,80.96 L80.37,82.53 L81.67,84.07 L82.9,85.52 L84,86.82 L84.93,87.9 L85.62,88.72 L93.58,82.68 L92.98,81.78 L92.17,80.6 L91.21,79.19 L90.15,77.63 L89.03,75.99 L87.92,74.33 L86.85,72.72 L85.88,71.23 L84.96,69.82 L84.06,68.4 L83.16,66.98 L82.27,65.56 L81.39,64.14 L80.52,62.72 L79.65,61.3 L78.8,59.89 L77.96,58.47 L77.12,57.06 L76.3,55.64 L75.48,54.23 L74.67,52.81 L73.87,51.4 L73.08,49.99 L72.3,48.58 L71.53,47.17 L70.77,45.76 L70.02,44.35 L69.27,42.94 L68.54,41.53 L67.81,40.12 L67.09,38.72 L66.39,37.32 L65.67,35.86 L64.91,34.28 L64.12,32.64 L63.35,31.01 L62.62,29.46 L61.97,28.06 L61.41,26.87 L60.98,25.97 Z" fill="#f0b8a4" filter="url(#b0_6)"/>
<path d=" M48.66,32.61 L49.15,33.45 L49.8,34.57 L50.58,35.91 L51.45,37.41 L52.38,39 L53.34,40.62 L54.28,42.21 L55.18,43.69 L56.05,45.08 L56.92,46.47 L57.8,47.86 L58.68,49.25 L59.58,50.63 L60.49,52.02 L61.4,53.4 L62.32,54.79 L63.25,56.17 L64.19,57.55 L65.14,58.93 L66.1,60.31 L67.06,61.69 L68.04,63.06 L69.02,64.44 L70.02,65.81 L71.02,67.19 L72.03,68.56 L73.04,69.93 L74.07,71.3 L75.11,72.67 L76.15,74.04 L77.2,75.41 L78.27,76.78 L79.41,78.22 L80.65,79.77 L81.93,81.35 L83.19,82.91 L84.39,84.38 L85.47,85.7 L86.37,86.8 L87.05,87.63 L92.15,83.77 L91.53,82.89 L90.7,81.72 L89.72,80.33 L88.63,78.79 L87.48,77.16 L86.33,75.52 L85.23,73.92 L84.22,72.44 L83.27,71.03 L82.34,69.62 L81.41,68.21 L80.49,66.81 L79.58,65.4 L78.67,63.99 L77.78,62.58 L76.9,61.17 L76.02,59.76 L75.16,58.36 L74.3,56.95 L73.45,55.54 L72.61,54.14 L71.78,52.73 L70.96,51.32 L70.15,49.92 L69.35,48.51 L68.55,47.11 L67.77,45.7 L66.99,44.3 L66.23,42.89 L65.47,41.49 L64.72,40.09 L63.98,38.69 L63.23,37.22 L62.42,35.64 L61.6,34 L60.8,32.38 L60.04,30.84 L59.36,29.45 L58.78,28.28 L58.34,27.39 Z" fill="#ec8e74" filter="url(#b0_5)"/>
<path d="M53.5,30 C54.51,31.86 57.46,37.46 59.58,41.19 C61.71,44.91 63.92,48.63 66.24,52.35 C68.55,56.07 70.95,59.78 73.46,63.49 C75.96,67.2 78.55,70.91 81.24,74.61 C83.93,78.31 88.21,83.85 89.6,85.7" fill="none" stroke="#e06850" stroke-width="3" stroke-linecap="round" stroke-linejoin="round" filter="url(#b0_4)"/>
<path d=" M55.22,33.05 L56.06,32.28 L57.26,31.2 L58.69,29.9 L60.23,28.49 L61.78,27.09 L63.21,25.79 L64.4,24.7 L65.25,23.94 L64.75,23.06 L63.66,23.39 L62.12,23.85 L60.27,24.41 L58.27,25.01 L56.26,25.61 L54.41,26.16 L52.87,26.63 L51.78,26.95 Z" fill="#ec9a80" filter="url(#b0_8)"/>
<circle cx="56.5" cy="31" r="4" fill="#ec9a80" fill-opacity="1" filter="url(#b1)"/>
<path d="M108,68.3 C107.65,66.42 106.63,60.88 105.9,57 C105.17,53.12 103.95,48 103.6,45 C103.25,42 103.53,41 103.8,39 C104.07,37 104.57,34.92 105.2,33 C105.83,31.08 106.23,29.83 107.6,27.5 C108.97,25.17 110.23,23.58 113.4,19 C116.57,14.42 124.17,3.48 126.6,0 C129.03,-3.48 127.77,-1.58 128,-1.9" fill="none" stroke="#dde2ee" stroke-width="10" stroke-linecap="round" stroke-linejoin="round" filter="url(#b1_5)"/>
<path d="M108,68.3 C107.65,66.42 106.63,60.88 105.9,57 C105.17,53.12 103.95,48 103.6,45 C103.25,42 103.53,41 103.8,39 C104.07,37 104.57,34.92 105.2,33 C105.83,31.08 106.23,29.83 107.6,27.5 C108.97,25.17 110.23,23.58 113.4,19 C116.57,14.42 124.17,3.48 126.6,0 C129.03,-3.48 127.77,-1.58 128,-1.9" fill="none" stroke="#ffffff" stroke-width="5" stroke-linecap="round" stroke-linejoin="round" filter="url(#b0_6)"/>
<path d=" M89.6,85.7 L108,68.3" fill="none" stroke="#f0a890" stroke-width="3" stroke-linecap="round" stroke-linejoin="round" filter="url(#b0_6)"/>
</g>
<g clip-path="url(#c10)">
<path d="M53.5,30 C49.5,32 35.22,39.23 29.5,42 C23.78,44.77 20.92,45.83 19.2,46.6 L19.2,46.6 L24.9,62.6 L24.9,62.6 C27.22,62.77 33.82,62.4 38.8,63.6 C43.78,64.8 49.47,66.83 54.8,69.8 C60.13,72.77 65.98,77.68 70.8,81.4 C75.62,85.12 81.55,90.32 83.7,92.1 L83.7,92.1 L89.6,85.7 L89.6,85.7 C88.21,83.85 83.93,78.31 81.24,74.61 C78.55,70.91 75.96,67.2 73.46,63.49 C70.95,59.78 68.55,56.07 66.24,52.35 C63.92,48.63 61.71,44.91 59.58,41.19 C57.46,37.46 54.51,31.86 53.5,30 Z" fill="url(#blp)"/>
<path d="M53.5,30 C54.51,31.86 57.46,37.46 59.58,41.19 C61.71,44.91 63.92,48.63 66.24,52.35 C68.55,56.07 70.95,59.78 73.46,63.49 C75.96,67.2 78.55,70.91 81.24,74.61 C83.93,78.31 88.21,83.85 89.6,85.7" fill="none" stroke="#a8c0f4" stroke-width="12" stroke-linecap="round" stroke-linejoin="round" filter="url(#b2_5)"/>
<path d=" M50.36,23.74 L48.49,24.88 L45.9,26.44 L42.82,28.31 L39.45,30.35 L36.01,32.43 L32.7,34.42 L29.75,36.19 L27.37,37.6 L25.48,38.7 L23.83,39.63 L22.39,40.42 L21.14,41.09 L20.06,41.66 L19.13,42.14 L18.31,42.56 L17.61,42.93 L20.79,50.27 L21.5,50.03 L22.33,49.76 L23.35,49.42 L24.56,49.01 L25.97,48.52 L27.61,47.93 L29.49,47.22 L31.63,46.4 L34.27,45.35 L37.5,44.05 L41.1,42.6 L44.84,41.07 L48.49,39.58 L51.83,38.22 L54.62,37.08 L56.64,36.26 Z" fill="#b8c8f2" filter="url(#b1_5)"/>
<path d=" M52.15,27.32 L50.25,28.37 L47.61,29.83 L44.46,31.58 L41.02,33.48 L37.5,35.42 L34.12,37.28 L31.1,38.93 L28.65,40.25 L26.7,41.28 L24.98,42.16 L23.49,42.9 L22.19,43.53 L21.08,44.06 L20.12,44.5 L19.3,44.89 L18.6,45.22 L19.8,47.98 L20.5,47.7 L21.34,47.39 L22.33,47.02 L23.51,46.57 L24.88,46.04 L26.46,45.4 L28.28,44.64 L30.35,43.75 L32.92,42.61 L36.08,41.2 L39.6,39.61 L43.27,37.95 L46.85,36.32 L50.12,34.83 L52.86,33.58 L54.85,32.68 Z" fill="#eccfc4" filter="url(#b0_6)"/>
<path d="M24.9,62.6 C27.22,62.77 33.82,62.4 38.8,63.6 C43.78,64.8 49.47,66.83 54.8,69.8 C60.13,72.77 65.98,77.68 70.8,81.4 C75.62,85.12 81.55,90.32 83.7,92.1" fill="none" stroke="#3550c8" stroke-width="3" stroke-linecap="round" stroke-linejoin="round" filter="url(#b0_6)"/>
<path d=" M50.86,31.42 L51.34,32.27 L51.98,33.4 L52.74,34.75 L53.6,36.26 L54.5,37.85 L55.43,39.47 L56.35,41.05 L57.23,42.53 L58.07,43.92 L58.91,45.31 L59.77,46.7 L60.63,48.09 L61.51,49.47 L62.39,50.86 L63.28,52.25 L64.18,53.63 L65.09,55.01 L66.01,56.4 L66.93,57.78 L67.87,59.16 L68.81,60.54 L69.77,61.92 L70.73,63.3 L71.7,64.68 L72.68,66.05 L73.67,67.43 L74.66,68.81 L75.67,70.18 L76.68,71.56 L77.7,72.93 L78.74,74.3 L79.78,75.68 L80.89,77.13 L82.11,78.68 L83.36,80.27 L84.6,81.84 L85.78,83.32 L86.85,84.65 L87.74,85.77 L88.4,86.61 L90.8,84.79 L90.16,83.92 L89.32,82.76 L88.32,81.39 L87.21,79.86 L86.05,78.24 L84.87,76.61 L83.74,75.02 L82.71,73.54 L81.74,72.14 L80.78,70.73 L79.83,69.33 L78.89,67.92 L77.96,66.52 L77.03,65.12 L76.12,63.71 L75.21,62.31 L74.32,60.9 L73.43,59.5 L72.55,58.09 L71.68,56.69 L70.82,55.29 L69.97,53.88 L69.12,52.48 L68.29,51.07 L67.47,49.67 L66.65,48.27 L65.84,46.86 L65.04,45.46 L64.25,44.06 L63.47,42.65 L62.7,41.25 L61.94,39.85 L61.16,38.38 L60.33,36.79 L59.48,35.15 L58.66,33.53 L57.88,32 L57.18,30.62 L56.59,29.45 L56.14,28.58 Z" fill="#eccfc4" filter="url(#b0_6)"/>
</g>
<path d=" M-0.4,-2 L4.2,-2 L2.8,7 Z" fill="#fff"/>
<path d=" M-0.4,-2 L19.2,46.6 L26,63.5 L29.5,74.4 L80.8,94.9 L89.6,85.7 L108,68.3 L108,68.3 C107.65,66.42 106.63,60.88 105.9,57 C105.17,53.12 103.95,48 103.6,45 C103.25,42 103.53,41 103.8,39 C104.07,37 104.57,34.92 105.2,33 C105.83,31.08 106.23,29.83 107.6,27.5 C108.97,25.17 110.23,23.58 113.4,19 C116.57,14.42 124.17,3.48 126.6,0 C129.03,-3.48 127.77,-1.58 128,-1.9" fill="none" stroke="#3a3a3a" stroke-width="0.9"/>
<path d="M53.5,30 C52.08,26.93 47.22,16.93 45,11.6 C42.78,6.27 41,0.27 40.2,-2 M53.5,30 C55.42,28.92 60.67,25.92 65,23.5 C69.33,21.08 75.42,17.82 79.5,15.5 C83.58,13.18 85.67,12.18 89.5,9.6 C93.33,7.02 99.92,1.93 102.5,0 C105.08,-1.93 104.58,-1.67 105,-2 M53.5,30 C49.5,32 35.22,39.23 29.5,42 C23.78,44.77 20.92,45.83 19.2,46.6 M53.5,30 C54.51,31.86 57.46,37.46 59.58,41.19 C61.71,44.91 63.92,48.63 66.24,52.35 C68.55,56.07 70.95,59.78 73.46,63.49 C75.96,67.2 78.55,70.91 81.24,74.61 C83.93,78.31 88.21,83.85 89.6,85.7" fill="none" stroke="#262626" stroke-width="0.95"/>
</g>
<text x="-5" y="12.8" text-anchor="end" class="t">-2.8</text>
<text x="-5" y="43.5" text-anchor="end" class="t">-3</text>
<text x="-5" y="74.2" text-anchor="end" class="t">-3.2</text>
<text x="-5" y="105" text-anchor="end" class="t">-3.4</text>
<text x="7.6" y="118.2" text-anchor="middle" class="t">3.6</text>
<text x="38.5" y="118.2" text-anchor="middle" class="t">3.8</text>
<text x="69.4" y="118.2" text-anchor="middle" class="t">4</text>
<text x="100.3" y="118.2" text-anchor="middle" class="t">4.2</text>
<text x="63.25" y="136.5" text-anchor="middle" class="l">R(m)</text>
<text transform="translate(-34,50) rotate(-90)" text-anchor="middle" class="l">Z(m)</text>
<text x="63.25" y="-4.6" text-anchor="middle" class="ti">log10(Li<tspan dx="0.4" dy="-8" font-size="11">+2</tspan><tspan dx="0.6" dy="8">)</tspan></text>
<rect x="134.3" y="0" width="10.8" height="100" fill="url(#cw)" stroke="#777" stroke-width="0.6"/>
<text x="149.8" y="5" class="t">22</text>
<line x1="145.1" y1="16.67" x2="143.6" y2="16.67" stroke="#444" stroke-width="0.7"/>
<text x="149.8" y="21.67" class="t">20</text>
<line x1="145.1" y1="33.33" x2="143.6" y2="33.33" stroke="#444" stroke-width="0.7"/>
<text x="149.8" y="38.33" class="t">18</text>
<line x1="145.1" y1="50" x2="143.6" y2="50" stroke="#444" stroke-width="0.7"/>
<text x="149.8" y="55" class="t">16</text>
<line x1="145.1" y1="66.67" x2="143.6" y2="66.67" stroke="#444" stroke-width="0.7"/>
<text x="149.8" y="71.67" class="t">14</text>
<line x1="145.1" y1="83.33" x2="143.6" y2="83.33" stroke="#444" stroke-width="0.7"/>
<text x="149.8" y="88.33" class="t">12</text>
<text x="149.8" y="105" class="t">10</text>
</g>
<g transform="translate(285.5,168.5)">
<line x1="8.1" y1="0" x2="8.1" y2="100" stroke="#e8e8e8" stroke-width="0.75"/>
<line x1="39" y1="0" x2="39" y2="100" stroke="#e8e8e8" stroke-width="0.75"/>
<line x1="69.9" y1="0" x2="69.9" y2="100" stroke="#e8e8e8" stroke-width="0.75"/>
<line x1="100.8" y1="0" x2="100.8" y2="100" stroke="#e8e8e8" stroke-width="0.75"/>
<line x1="0" y1="7.8" x2="127" y2="7.8" stroke="#e8e8e8" stroke-width="0.75"/>
<line x1="0" y1="38.5" x2="127" y2="38.5" stroke="#e8e8e8" stroke-width="0.75"/>
<line x1="0" y1="69.2" x2="127" y2="69.2" stroke="#e8e8e8" stroke-width="0.75"/>
<rect x="0" y="0" width="127" height="100" fill="none" stroke="#6e6e6e" stroke-width="0.85"/>
<line x1="8.1" y1="100" x2="8.1" y2="98.5" stroke="#555" stroke-width="0.7"/>
<line x1="39" y1="100" x2="39" y2="98.5" stroke="#555" stroke-width="0.7"/>
<line x1="69.9" y1="100" x2="69.9" y2="98.5" stroke="#555" stroke-width="0.7"/>
<line x1="100.8" y1="100" x2="100.8" y2="98.5" stroke="#555" stroke-width="0.7"/>
<line x1="8.1" y1="0" x2="8.1" y2="1.5" stroke="#555" stroke-width="0.7"/>
<line x1="39" y1="0" x2="39" y2="1.5" stroke="#555" stroke-width="0.7"/>
<line x1="69.9" y1="0" x2="69.9" y2="1.5" stroke="#555" stroke-width="0.7"/>
<line x1="100.8" y1="0" x2="100.8" y2="1.5" stroke="#555" stroke-width="0.7"/>
<line x1="0" y1="7.8" x2="1.5" y2="7.8" stroke="#555" stroke-width="0.7"/>
<line x1="127" y1="7.8" x2="125.5" y2="7.8" stroke="#555" stroke-width="0.7"/>
<line x1="0" y1="38.5" x2="1.5" y2="38.5" stroke="#555" stroke-width="0.7"/>
<line x1="127" y1="38.5" x2="125.5" y2="38.5" stroke="#555" stroke-width="0.7"/>
<line x1="0" y1="69.2" x2="1.5" y2="69.2" stroke="#555" stroke-width="0.7"/>
<line x1="127" y1="69.2" x2="125.5" y2="69.2" stroke="#555" stroke-width="0.7"/>
<g clip-path="url(#ax3)">
<g clip-path="url(#c11)">
<path d=" M-0.4,-2 L19.2,46.6 L19.2,46.6 C20.92,45.83 23.78,44.77 29.5,42 C35.22,39.23 49.5,32 53.5,30 L53.5,30 C52.08,26.93 47.22,16.93 45,11.6 C42.78,6.27 41,0.27 40.2,-2 Z" fill="url(#brl)"/>
<path d=" M4,8 L19.2,46.6" fill="none" stroke="#f2d4c8" stroke-width="7" stroke-linecap="round" stroke-linejoin="round" filter="url(#b1)"/>
<path d="M53.5,30 C49.5,32 35.22,39.23 29.5,42 C23.78,44.77 20.92,45.83 19.2,46.6" fill="none" stroke="#f0c8b8" stroke-width="3.5" stroke-linecap="round" stroke-linejoin="round" filter="url(#b0_6)"/>
<path d=" M8.5,21 L19.2,46.6" fill="none" stroke="#3e58cc" stroke-width="2.8" stroke-linecap="round" stroke-linejoin="round" filter="url(#b0_4)"/>
</g>
<g clip-path="url(#c12)">
<path d="M53.5,30 C52.08,26.93 47.22,16.93 45,11.6 C42.78,6.27 41,0.27 40.2,-2 L40.2,-2 L105,-2 L105,-2 C104.58,-1.67 105.08,-1.93 102.5,0 C99.92,1.93 93.33,7.02 89.5,9.6 C85.67,12.18 83.58,13.18 79.5,15.5 C75.42,17.82 69.33,21.08 65,23.5 C60.67,25.92 55.42,28.92 53.5,30 Z" fill="url(#brc)"/>
</g>
<g clip-path="url(#c13)">
<path d="M53.5,30 C55.42,28.92 60.67,25.92 65,23.5 C69.33,21.08 75.42,17.82 79.5,15.5 C83.58,13.18 85.67,12.18 89.5,9.6 C93.33,7.02 99.92,1.93 102.5,0 C105.08,-1.93 104.58,-1.67 105,-2 L130,-2 L128,-1.9 C127.77,-1.58 129.03,-3.48 126.6,0 C124.17,3.48 116.57,14.42 113.4,19 C110.23,23.58 108.97,25.17 107.6,27.5 C106.23,29.83 105.83,31.08 105.2,33 C104.57,34.92 104.07,37 103.8,39 C103.53,41 103.25,42 103.6,45 C103.95,48 105.17,53.12 105.9,57 C106.63,60.88 107.65,66.42 108,68.3 L108,68.3 L89.6,85.7 L89.6,85.7 C88.21,83.85 83.93,78.31 81.24,74.61 C78.55,70.91 75.96,67.2 73.46,63.49 C70.95,59.78 68.55,56.07 66.24,52.35 C63.92,48.63 61.71,44.91 59.58,41.19 C57.46,37.46 54.51,31.86 53.5,30 Z" fill="url(#brr)"/>
<path d="M53.5,30 C54.51,31.86 57.46,37.46 59.58,41.19 C61.71,44.91 63.92,48.63 66.24,52.35 C68.55,56.07 70.95,59.78 73.46,63.49 C75.96,67.2 78.55,70.91 81.24,74.61 C83.93,78.31 88.21,83.85 89.6,85.7" fill="none" stroke="#e8866c" stroke-width="4" stroke-linecap="round" stroke-linejoin="round" filter="url(#b0_8)"/>
<path d="M108,68.3 C107.65,66.42 106.63,60.88 105.9,57 C105.17,53.12 103.95,48 103.6,45 C103.25,42 103.53,41 103.8,39 C104.07,37 104.57,34.92 105.2,33 C105.83,31.08 106.23,29.83 107.6,27.5 C108.97,25.17 110.23,23.58 113.4,19 C116.57,14.42 124.17,3.48 126.6,0 C129.03,-3.48 127.77,-1.58 128,-1.9  M89.6,85.7 L108,68.3" fill="none" stroke="#f6dcd0" stroke-width="12" stroke-linecap="round" stroke-linejoin="round" filter="url(#b2)"/>
<path d="M108,68.3 C107.65,66.42 106.63,60.88 105.9,57 C105.17,53.12 103.95,48 103.6,45 C103.25,42 103.53,41 103.8,39 C104.07,37 104.57,34.92 105.2,33 C105.83,31.08 106.23,29.83 107.6,27.5 C108.97,25.17 110.23,23.58 113.4,19 C116.57,14.42 124.17,3.48 126.6,0 C129.03,-3.48 127.77,-1.58 128,-1.9" fill="none" stroke="#ffffff" stroke-width="5.5" stroke-linecap="round" stroke-linejoin="round" filter="url(#b0_7)"/>
</g>
<g clip-path="url(#c14)">
<path d="M53.5,30 C49.5,32 35.22,39.23 29.5,42 C23.78,44.77 20.92,45.83 19.2,46.6 L19.2,46.6 L24.9,62.6 L24.9,62.6 C27.22,62.77 33.82,62.4 38.8,63.6 C43.78,64.8 49.47,66.83 54.8,69.8 C60.13,72.77 65.98,77.68 70.8,81.4 C75.62,85.12 81.55,90.32 83.7,92.1 L83.7,92.1 L89.6,85.7 L89.6,85.7 C88.21,83.85 83.93,78.31 81.24,74.61 C78.55,70.91 75.96,67.2 73.46,63.49 C70.95,59.78 68.55,56.07 66.24,52.35 C63.92,48.63 61.71,44.91 59.58,41.19 C57.46,37.46 54.51,31.86 53.5,30 Z" fill="#3b4cc0"/>
<path d=" M44.7,34.75 L45.23,35.55 L45.94,36.63 L46.8,37.94 L47.76,39.4 L48.79,40.95 L49.84,42.54 L50.89,44.1 L51.89,45.56 L52.84,46.93 L53.8,48.29 L54.76,49.65 L55.74,51 L56.72,52.36 L57.71,53.71 L58.71,55.06 L59.72,56.41 L60.73,57.75 L61.76,59.1 L62.79,60.44 L63.83,61.78 L64.88,63.11 L65.94,64.45 L67.01,65.78 L68.08,67.11 L69.17,68.44 L70.26,69.77 L71.36,71.1 L72.47,72.42 L73.59,73.74 L74.72,75.06 L75.85,76.38 L77,77.7 L78.23,79.1 L79.56,80.59 L80.93,82.11 L82.28,83.6 L83.57,85.01 L84.72,86.27 L85.69,87.32 L86.41,88.12 L92.79,83.28 L92.21,82.36 L91.45,81.15 L90.54,79.7 L89.53,78.1 L88.48,76.41 L87.42,74.7 L86.41,73.04 L85.49,71.51 L84.63,70.06 L83.77,68.6 L82.92,67.14 L82.09,65.68 L81.26,64.23 L80.44,62.77 L79.63,61.32 L78.83,59.87 L78.04,58.42 L77.25,56.97 L76.48,55.52 L75.72,54.07 L74.96,52.63 L74.22,51.18 L73.48,49.74 L72.76,48.3 L72.04,46.86 L71.33,45.42 L70.63,43.98 L69.94,42.54 L69.26,41.11 L68.59,39.67 L67.93,38.24 L67.28,36.82 L66.62,35.33 L65.92,33.72 L65.2,32.05 L64.49,30.39 L63.82,28.82 L63.21,27.39 L62.7,26.17 L62.3,25.25 Z" fill="#6a86e2" filter="url(#b1_2)"/>
<path d=" M48.22,32.85 L48.73,33.68 L49.4,34.78 L50.22,36.11 L51.12,37.59 L52.09,39.16 L53.08,40.76 L54.06,42.33 L55,43.79 L55.9,45.17 L56.8,46.54 L57.71,47.91 L58.63,49.28 L59.56,50.65 L60.49,52.02 L61.44,53.38 L62.39,54.74 L63.35,56.11 L64.32,57.47 L65.3,58.83 L66.29,60.18 L67.29,61.54 L68.29,62.89 L69.31,64.25 L70.33,65.6 L71.36,66.95 L72.4,68.3 L73.45,69.65 L74.51,70.99 L75.57,72.34 L76.65,73.68 L77.73,75.03 L78.82,76.37 L79.99,77.79 L81.26,79.31 L82.58,80.86 L83.88,82.39 L85.11,83.83 L86.22,85.13 L87.15,86.21 L87.85,87.03 L91.35,84.37 L90.75,83.48 L89.95,82.29 L89,80.88 L87.94,79.31 L86.83,77.65 L85.71,75.98 L84.64,74.35 L83.66,72.84 L82.75,71.41 L81.84,69.98 L80.94,68.54 L80.05,67.11 L79.17,65.68 L78.3,64.25 L77.44,62.82 L76.58,61.38 L75.74,59.95 L74.9,58.52 L74.08,57.1 L73.26,55.67 L72.45,54.24 L71.65,52.81 L70.86,51.39 L70.08,49.96 L69.31,48.54 L68.55,47.11 L67.79,45.69 L67.05,44.26 L66.32,42.84 L65.59,41.42 L64.87,40 L64.17,38.59 L63.44,37.1 L62.68,35.5 L61.9,33.84 L61.13,32.2 L60.41,30.65 L59.75,29.24 L59.2,28.05 L58.78,27.15 Z" fill="#b4c6f4" filter="url(#b0_8)"/>
<path d=" M50.42,31.66 L50.91,32.5 L51.57,33.62 L52.35,34.96 L53.23,36.46 L54.16,38.04 L55.12,39.65 L56.06,41.22 L56.96,42.68 L57.82,44.06 L58.69,45.44 L59.57,46.82 L60.45,48.19 L61.35,49.57 L62.25,50.94 L63.16,52.32 L64.09,53.69 L65.02,55.06 L65.95,56.43 L66.9,57.8 L67.86,59.17 L68.82,60.53 L69.8,61.9 L70.78,63.26 L71.77,64.63 L72.77,65.99 L73.78,67.35 L74.8,68.71 L75.82,70.07 L76.86,71.43 L77.9,72.79 L78.95,74.15 L80.01,75.5 L81.15,76.94 L82.38,78.47 L83.66,80.04 L84.93,81.59 L86.13,83.06 L87.21,84.37 L88.12,85.47 L88.8,86.3 L90.4,85.1 L89.78,84.21 L88.96,83.04 L87.98,81.65 L86.89,80.11 L85.74,78.47 L84.59,76.82 L83.49,75.21 L82.47,73.71 L81.53,72.29 L80.59,70.87 L79.66,69.45 L78.74,68.03 L77.82,66.61 L76.92,65.19 L76.03,63.77 L75.14,62.36 L74.27,60.94 L73.4,59.52 L72.54,58.1 L71.69,56.68 L70.85,55.27 L70.02,53.85 L69.2,52.43 L68.39,51.01 L67.58,49.6 L66.79,48.18 L66,46.77 L65.23,45.35 L64.46,43.94 L63.7,42.52 L62.95,41.11 L62.21,39.7 L61.45,38.21 L60.64,36.61 L59.83,34.97 L59.02,33.34 L58.27,31.79 L57.59,30.4 L57.02,29.22 L56.58,28.34 Z" fill="#eeeef2" filter="url(#b0_5)"/>
<path d=" M49.91,22.85 L48.13,24.16 L45.67,25.97 L42.73,28.14 L39.53,30.5 L36.25,32.91 L33.1,35.22 L30.28,37.27 L28.01,38.92 L26.19,40.21 L24.59,41.31 L23.2,42.25 L21.99,43.05 L20.94,43.73 L20.04,44.3 L19.26,44.8 L18.6,45.22 L19.8,47.98 L20.54,47.8 L21.42,47.59 L22.47,47.35 L23.71,47.05 L25.16,46.69 L26.85,46.24 L28.78,45.71 L30.99,45.08 L33.73,44.27 L37.1,43.26 L40.86,42.12 L44.76,40.92 L48.58,39.75 L52.07,38.69 L54.98,37.79 L57.09,37.15 Z" fill="#6a86e2" filter="url(#b1_2)"/>
<path d=" M51.48,25.98 L49.63,27.14 L47.07,28.76 L44.02,30.69 L40.68,32.79 L37.26,34.94 L33.98,37 L31.05,38.83 L28.67,40.29 L26.77,41.44 L25.1,42.42 L23.64,43.26 L22.38,43.96 L21.29,44.56 L20.36,45.06 L19.56,45.49 L18.88,45.87 L19.52,47.33 L20.24,47.1 L21.1,46.83 L22.12,46.52 L23.32,46.14 L24.72,45.68 L26.34,45.13 L28.2,44.48 L30.33,43.71 L32.97,42.72 L36.21,41.48 L39.84,40.09 L43.61,38.63 L47.3,37.2 L50.66,35.9 L53.48,34.81 L55.52,34.02 Z" fill="#c4d2f4" filter="url(#b0_6)"/>
<path d=" M52.51,28.03 L50.62,29.11 L47.99,30.6 L44.86,32.37 L41.44,34.31 L37.94,36.29 L34.58,38.19 L31.57,39.87 L29.12,41.22 L27.17,42.28 L25.45,43.18 L23.95,43.95 L22.65,44.59 L21.54,45.14 L20.58,45.59 L19.77,45.98 L19.08,46.32 L19.32,46.88 L20.03,46.61 L20.88,46.3 L21.88,45.94 L23.05,45.51 L24.41,44.99 L25.99,44.37 L27.81,43.64 L29.88,42.78 L32.45,41.67 L35.62,40.29 L39.16,38.74 L42.85,37.11 L46.45,35.52 L49.74,34.06 L52.49,32.84 L54.49,31.97 Z" fill="#eeeef2" filter="url(#b0_4)"/>
<circle cx="53.5" cy="34" r="4.5" fill="#eae8ee" fill-opacity="1" filter="url(#b1_2)"/>
<path d="M24.9,62.6 C27.22,62.77 33.82,62.4 38.8,63.6 C43.78,64.8 49.47,66.83 54.8,69.8 C60.13,72.77 65.98,77.68 70.8,81.4 C75.62,85.12 81.55,90.32 83.7,92.1" fill="none" stroke="#3548b8" stroke-width="2" stroke-linecap="round" stroke-linejoin="round" filter="url(#b0_5)"/>
</g>
<path d=" M-0.4,-2 L4.2,-2 L2.8,7 Z" fill="#fff"/>
<path d=" M-0.4,-2 L19.2,46.6 L26,63.5 L29.5,74.4 L80.8,94.9 L89.6,85.7 L108,68.3 L108,68.3 C107.65,66.42 106.63,60.88 105.9,57 C105.17,53.12 103.95,48 103.6,45 C103.25,42 103.53,41 103.8,39 C104.07,37 104.57,34.92 105.2,33 C105.83,31.08 106.23,29.83 107.6,27.5 C108.97,25.17 110.23,23.58 113.4,19 C116.57,14.42 124.17,3.48 126.6,0 C129.03,-3.48 127.77,-1.58 128,-1.9" fill="none" stroke="#3a3a3a" stroke-width="0.9"/>
<path d="M53.5,30 C52.08,26.93 47.22,16.93 45,11.6 C42.78,6.27 41,0.27 40.2,-2 M53.5,30 C55.42,28.92 60.67,25.92 65,23.5 C69.33,21.08 75.42,17.82 79.5,15.5 C83.58,13.18 85.67,12.18 89.5,9.6 C93.33,7.02 99.92,1.93 102.5,0 C105.08,-1.93 104.58,-1.67 105,-2 M53.5,30 C49.5,32 35.22,39.23 29.5,42 C23.78,44.77 20.92,45.83 19.2,46.6 M53.5,30 C54.51,31.86 57.46,37.46 59.58,41.19 C61.71,44.91 63.92,48.63 66.24,52.35 C68.55,56.07 70.95,59.78 73.46,63.49 C75.96,67.2 78.55,70.91 81.24,74.61 C83.93,78.31 88.21,83.85 89.6,85.7" fill="none" stroke="#262626" stroke-width="0.95"/>
</g>
<text x="-5" y="12.8" text-anchor="end" class="t">-2.8</text>
<text x="-5" y="43.5" text-anchor="end" class="t">-3</text>
<text x="-5" y="74.2" text-anchor="end" class="t">-3.2</text>
<text x="-5" y="105" text-anchor="end" class="t">-3.4</text>
<text x="8.1" y="118.2" text-anchor="middle" class="t">3.6</text>
<text x="39" y="118.2" text-anchor="middle" class="t">3.8</text>
<text x="69.9" y="118.2" text-anchor="middle" class="t">4</text>
<text x="100.8" y="118.2" text-anchor="middle" class="t">4.2</text>
<text x="63.5" y="136.5" text-anchor="middle" class="l">R(m)</text>
<text x="63.5" y="-4.6" text-anchor="middle" class="ti">log10(Li<tspan dx="0.4" dy="-8" font-size="11">+3</tspan><tspan dx="0.6" dy="8">)</tspan></text>
<rect x="134.8" y="0" width="10.8" height="100" fill="url(#cw)" stroke="#777" stroke-width="0.6"/>
<text x="150.3" y="5" class="t">22</text>
<line x1="145.6" y1="16.67" x2="144.1" y2="16.67" stroke="#444" stroke-width="0.7"/>
<text x="150.3" y="21.67" class="t">20</text>
<line x1="145.6" y1="33.33" x2="144.1" y2="33.33" stroke="#444" stroke-width="0.7"/>
<text x="150.3" y="38.33" class="t">18</text>
<line x1="145.6" y1="50" x2="144.1" y2="50" stroke="#444" stroke-width="0.7"/>
<text x="150.3" y="55" class="t">16</text>
<line x1="145.6" y1="66.67" x2="144.1" y2="66.67" stroke="#444" stroke-width="0.7"/>
<text x="150.3" y="71.67" class="t">14</text>
<line x1="145.6" y1="83.33" x2="144.1" y2="83.33" stroke="#444" stroke-width="0.7"/>
<text x="150.3" y="88.33" class="t">12</text>
<text x="150.3" y="105" class="t">10</text>
</g>
</svg></body></html>
